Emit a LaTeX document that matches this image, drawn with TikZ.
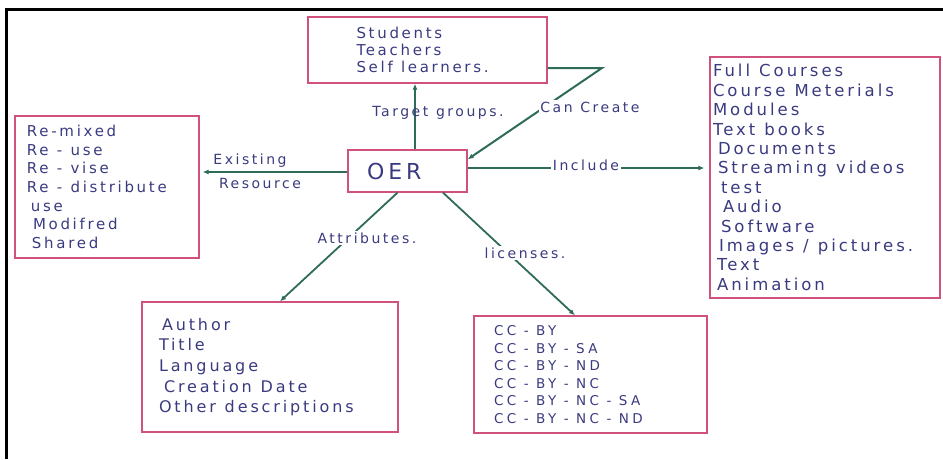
\documentclass[tikz,border=0pt]{standalone}
\usepackage{fontspec}
\setmainfont{DejaVu Sans}[LetterSpace=18]
\usepackage{xcolor}
\usetikzlibrary{arrows.meta,positioning}
\definecolor{ink}{HTML}{3A3A80}
\definecolor{rim}{HTML}{D0507E}
\definecolor{stem}{HTML}{2E6B58}
\newcommand\hand[2]{\fontsize{#1}{#2}\selectfont\spaceskip=0.55em\relax}

\begin{document}
\begin{tikzpicture}[x=1pt,y=-1pt,
  box/.style={draw=rim,line width=1.3pt,inner sep=0pt,align=flush left,text=ink},
  lbl/.style={text=ink,inner sep=1.5pt,font=\hand{14}{16}},
  arr/.style={-{Latex[length=6pt,width=5pt]},line width=2pt,stem}
]
\useasboundingbox (0,0) rectangle (943,459);
\draw[line width=3pt] (6,459) -- (6,9.5) -- (943,9.5);

% boxes
\node[box,minimum width=119pt,minimum height=42pt,text width=81pt,
      font=\hand{22}{24}] (oer) at (407.5,171) {OER};
\node[box,minimum width=239pt,minimum height=66pt,text width=142pt,
      font=\hand{15}{17}] (groups) at (427.5,50)
  {Students\\Teachers\\Self learners.};
\node[box,minimum width=184pt,minimum height=142pt,text width=160pt,
      font=\hand{15}{18.7}] (reuse) at (107,187)
  {Re-mixed\\Re - use\\Re - vise\\Re - distribute\\
   \hspace*{4pt}use\\\hspace*{6pt}Modifred\\\hspace*{5pt}Shared};
\node[box,minimum width=230pt,minimum height=241pt,text width=224pt,
      font=\hand{16.5}{19.4}] (include) at (825,177.5)
  {Full Courses\\Course Meterials\\Modules\\Text books\\
   \hspace*{5pt}Documents\\\hspace*{5pt}Streaming videos\\\hspace*{8pt}test\\
   \hspace*{10pt}Audio\\\hspace*{8pt}Software\\\hspace*{6pt}Images / pictures.\\
   \hspace*{4pt}Text\\\hspace*{4pt}Animation};
\node[box,minimum width=256pt,minimum height=130pt,text width=222pt,
      font=\hand{16}{20.7}] (attrib) at (270,367)
  {\hspace*{3pt}Author\\Title\\Language\\\hspace*{5pt}Creation Date\\Other descriptions};
\node[box,minimum width=233pt,minimum height=117pt,text width=193pt,
      font=\hand{13.5}{17.6}\addfontfeatures{LetterSpace=26}] (licence) at (590.5,374.5)
  {CC - BY\\CC - BY - SA\\CC - BY - ND\\CC - BY - NC\\CC - BY - NC - SA\\CC - BY - NC - ND};

% connectors
\coordinate (bend) at (602,68);
\draw[arr] ([xshift=7.5pt]oer.north) -- ([xshift=7.5pt]oer.north |- groups.south);
\draw[arr] ([yshift=-18pt]groups.east) -- (bend) -- ([yshift=-10pt]oer.north east);
\draw[arr,shorten >=5pt] ([yshift=3pt]oer.east) -- ([yshift=3pt]oer.east -| include.west);
\draw[arr,shorten >=3pt] ([yshift=-1pt]oer.west) -- ([yshift=-1pt]oer.west -| reuse.east);
\draw[arr,line width=1.8pt] ([xshift=-10pt]oer.south) -- ([xshift=10pt]attrib.north);
\draw[arr,line width=1.8pt] ([xshift=35.5pt]oer.south) -- ([xshift=-15.5pt]licence.north);

% labels
\node[lbl] (target) at (438,113) {Target groups.};
\node[lbl,fill=white] (cancreate) at (590,107) {Can Create};
\node[lbl,fill=white] (incl) at (586,165) {Include};
\node[lbl] (existing) at (250,161) {Existing};
\node[lbl] (resource) at (260,183) {Resource};
\node[lbl,fill=white] (attr) at (367,238) {Attributes.};
\node[lbl,fill=white] (lic) at (525,253) {licenses.};
\end{tikzpicture}
\end{document}
